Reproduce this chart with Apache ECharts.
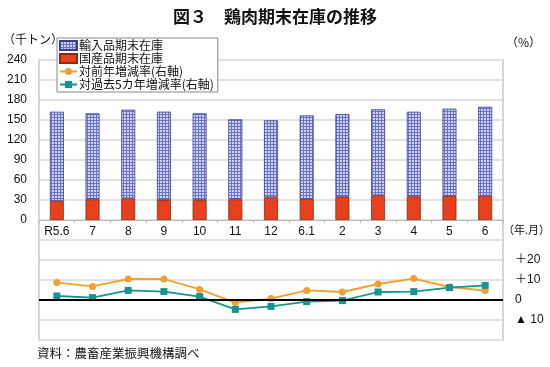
<!DOCTYPE html>
<html><head><meta charset="utf-8">
<script src="https://cdn.jsdelivr.net/npm/echarts@6/dist/echarts.min.js"></script>
<style>html,body{margin:0;padding:0;background:#fff}#c{width:550px;height:367px}</style>
</head><body><div id="c"></div>
<script>
const categories = ['R5.6','7','8','9','10','11','12','6.1','2','3','4','5','6'];
const importStock = [134, 129, 133, 132.5, 130, 120, 115.5, 125.5, 124, 129, 127, 131, 133.5];
const domesticStock = [28.4, 31, 32.4, 30, 30, 31, 34, 31.4, 35, 37, 35.4, 36, 36.4];
const yoyRate = [8.7, 6.8, 10.5, 10.5, 5.3, -1.3, 0.7, 4.8, 4.0, 8.0, 10.7, 6.5, 4.7];
const fiveYearRate = [2.0, 1.2, 4.8, 4.2, 1.7, -4.7, -3.2, -0.8, -0.3, 4.0, 4.2, 6.2, 7.3];
const leftTicks = {min: -180, max: 240, interval: 30};
const rightTicks = {min: -20, max: 120, interval: 10};
const rightLabels = {'20': '＋20', '10': '＋10', '0': '0', '-10': '▲ 10'};

const pc = document.createElement('canvas');
pc.width = 3; pc.height = 3;
const g = pc.getContext('2d');
g.fillStyle = '#d0d4f3'; g.fillRect(0,0,3,3);
g.fillStyle = '#6a72c8'; g.fillRect(0,0,3,1); g.fillRect(0,0,1,3);

const numFont = "'Liberation Sans', 'Noto Sans CJK JP', sans-serif";
const jpFont = "'Noto Sans CJK JP', sans-serif";
const gridColor = '#d9d9d9';

const chart = echarts.init(document.getElementById('c'), null, {renderer: 'canvas'});
chart.setOption({
  animation: false,
  backgroundColor: '#fff',
  title: {
    text: '図３　鶏肉期末在庫の推移', left: 'center', top: 3,
    textStyle: {fontFamily: jpFont, fontSize: 17, fontWeight: 'bold', color: '#111'}
  },
  legend: {
    orient: 'vertical', left: 57, top: 38,
    backgroundColor: '#fff', borderColor: '#888', borderWidth: 1,
    padding: [1, 4, 1, 2], itemGap: 0, itemWidth: 17, itemHeight: 9,
    textStyle: {fontFamily: jpFont, fontSize: 12, color: '#111', lineHeight: 13, padding: [0,0,0,-3]},
    data: [
      {name: '輸入品期末在庫', icon: 'rect'},
      {name: '国産品期末在庫', icon: 'rect'},
      '対前年増減率(右軸)', '対過去5カ年増減率(右軸)']
  },
  grid: {left: 39, right: 47, top: 60, bottom: 27},
  xAxis: {
    type: 'category', data: categories, position: 'bottom', offset: -120,
    axisLine: {onZero: false, lineStyle: {color: '#bbb', width: 1}},
    axisTick: {show: true, length: 3, lineStyle: {color: '#bbb'}},
    axisLabel: {margin: 6, fontFamily: numFont, fontSize: 12, color: '#111'},
    splitLine: {show: false}
  },
  yAxis: [{
    type: 'value', min: leftTicks.min, max: leftTicks.max, interval: leftTicks.interval,
    axisLine: {show: true, lineStyle: {color: '#c8c8c8', width: 1.5}},
    axisTick: {show: false},
    axisLabel: {margin: 12, fontFamily: numFont, fontSize: 12, color: '#111',
      formatter: v => v >= 0 ? String(v) : ''},
    splitLine: {show: true, lineStyle: {color: gridColor, width: 1.5}}
  }, {
    type: 'value', min: rightTicks.min, max: rightTicks.max, interval: rightTicks.interval,
    position: 'right',
    axisLine: {show: true, lineStyle: {color: '#c8c8c8', width: 1.5}},
    axisTick: {show: false},
    axisLabel: {margin: 12, align: 'left', fontFamily: numFont, fontSize: 12, color: '#111',
      formatter: v => rightLabels[String(v)] || ''},
    splitLine: {show: false}
  }],
  series: [{
    name: '国産品期末在庫', type: 'bar', stack: 'stock', barWidth: 14,
    data: domesticStock,
    itemStyle: {color: '#e8401c', borderColor: '#8a2a10', borderWidth: 0.8}
  }, {
    name: '輸入品期末在庫', type: 'bar', stack: 'stock', barWidth: 14,
    data: importStock,
    itemStyle: {color: {image: pc, repeat: 'repeat'}, borderColor: '#3a3f8f', borderWidth: 0.8}
  }, {
    name: '対前年増減率(右軸)', type: 'line', yAxisIndex: 1, data: yoyRate,
    symbol: 'circle', symbolSize: 7,
    lineStyle: {color: '#f0a030', width: 1.8}, itemStyle: {color: '#f0a030'}
  }, {
    name: '対過去5カ年増減率(右軸)', type: 'line', yAxisIndex: 1, data: fiveYearRate,
    symbol: 'rect', symbolSize: 7,
    lineStyle: {color: '#16948e', width: 1.8}, itemStyle: {color: '#16948e'},
    z: 3,
    markLine: {silent: true, symbol: 'none', label: {show: false},
      lineStyle: {color: '#000', width: 2, type: 'solid'}, data: [{yAxis: 0}]}
  }],
  graphic: [
    {type: 'text', left: 3, top: 33, style: {text: '（千トン）', font: "12px 'Noto Sans CJK JP'", fill: '#111'}},
    {type: 'text', left: 506, top: 36, style: {text: '（%）', font: "12px 'Noto Sans CJK JP'", fill: '#111'}},
    {type: 'text', left: 503, top: 224, style: {text: '（年.月）', font: "11px 'Noto Sans CJK JP'", fill: '#111'}},
    {type: 'text', left: 37, top: 347, style: {text: '資料：農畜産業振興機構調べ', font: "12.5px 'Noto Sans CJK JP'", fill: '#111'}}
  ]
});
</script></body></html>
